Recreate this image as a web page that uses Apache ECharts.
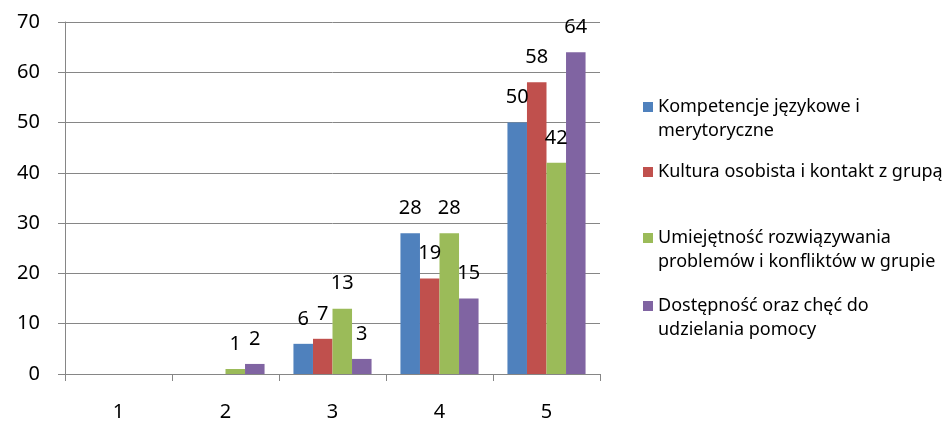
<!DOCTYPE html>
<html>
<head>
<meta charset="utf-8">
<script src="https://cdn.jsdelivr.net/npm/echarts@6/dist/echarts.min.js"></script>
<style>html,body{margin:0;padding:0;background:#fff}#c{width:950px;height:422px}</style>
</head>
<body>
<div id="c"></div>
<script>
const categories = ['1', '2', '3', '4', '5'];
const seriesNames = [
  'Kompetencje językowe i merytoryczne',
  'Kultura osobista i kontakt z grupą',
  'Umiejętność rozwiązywania problemów i konfliktów w grupie',
  'Dostępność oraz chęć do udzielania pomocy'
];
const legendLabels = [
  'Kompetencje językowe i\nmerytoryczne',
  'Kultura osobista i kontakt z grupą',
  'Umiejętność rozwiązywania\nproblemów i konfliktów w grupie',
  'Dostępność oraz chęć do\nudzielania pomocy'
];
const kompetencje = [0, 0, 6, 28, 50];
const kultura = [0, 0, 7, 19, 58];
const umiejetnosc = [0, 1, 13, 28, 42];
const dostepnosc = [0, 2, 3, 15, 64];
const yTicks = [0, 10, 20, 30, 40, 50, 60, 70];

const colors = ['#4F81BD', '#C0504D', '#9BBB59', '#8064A2'];
const seriesData = [kompetencje, kultura, umiejetnosc, dostepnosc];
const FONT = 'Noto Sans';
const legendTops = [66, 155, 197, 265];

const chart = echarts.init(document.getElementById('c'));
chart.setOption({
  animation: false,
  color: colors,
  textStyle: { fontFamily: FONT },
  grid: { left: 65, right: 350, top: 22, bottom: 47, containLabel: false },
  xAxis: {
    type: 'category',
    data: categories,
    axisLine: { lineStyle: { color: '#868686', width: 1 } },
    axisTick: { show: true, length: 7, lineStyle: { color: '#868686' } },
    axisLabel: { color: '#000', fontSize: 20, fontFamily: FONT, margin: 28 }
  },
  yAxis: {
    type: 'value',
    min: yTicks[0],
    max: yTicks[yTicks.length - 1],
    interval: 10,
    axisLine: { show: true, lineStyle: { color: '#868686', width: 1 } },
    axisTick: { show: true, length: 7, lineStyle: { color: '#868686' } },
    splitLine: { lineStyle: { color: '#868686', width: 1 } },
    axisLabel: { color: '#000', fontSize: 20, fontFamily: FONT, margin: 25 }
  },
  legend: seriesNames.map((n, i) => {
    const twoLine = legendLabels[i].indexOf('\n') >= 0;
    return {
      orient: 'vertical',
      left: 638,
      top: legendTops[i],
      data: [n],
      icon: 'rect',
      itemWidth: 10,
      itemHeight: 10,
      itemGap: 0,
      selectedMode: false,
      formatter: () => (twoLine ? ' \n' + legendLabels[i] : legendLabels[i]),
      textStyle: { color: '#000', fontSize: 18, fontFamily: FONT, lineHeight: 24 }
    };
  }),
  series: seriesData.map((d, i) => ({
    name: seriesNames[i],
    type: 'bar',
    data: d,
    barGap: '0%',
    barCategoryGap: '27%',
    itemStyle: { color: colors[i] },
    label: {
      show: true,
      position: 'top',
      distance: 15,
      color: '#000',
      fontSize: 20,
      fontFamily: FONT,
      formatter: p => (p.value ? String(p.value) : '')
    }
  }))
});
</script>
</body>
</html>
